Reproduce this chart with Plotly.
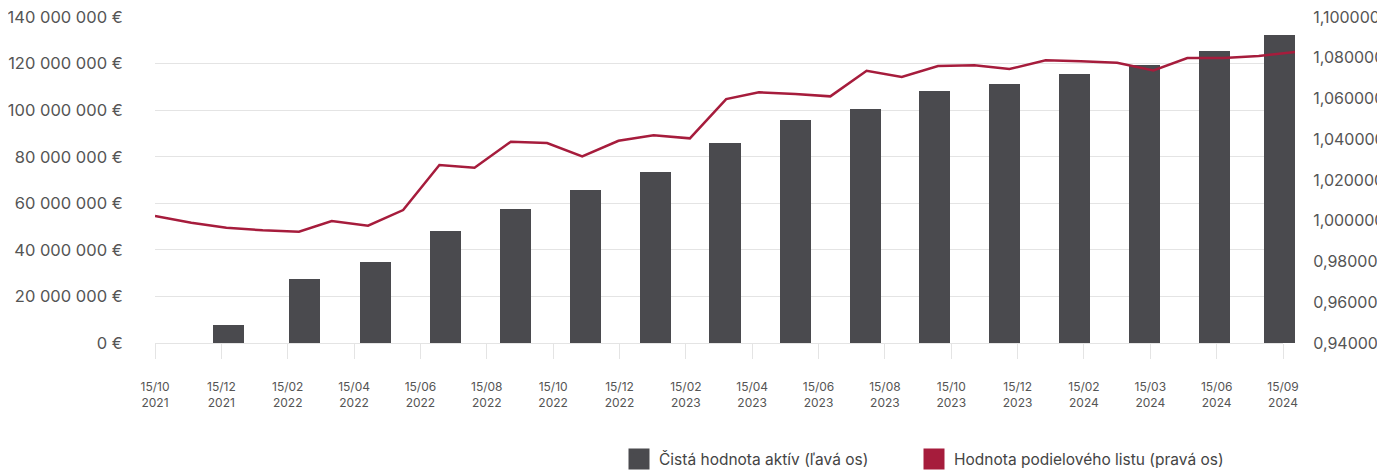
import plotly.graph_objects as go

# ---------------- data ----------------
tick_labels = [
    "15/10<br>2021", "15/12<br>2021", "15/02<br>2022", "15/04<br>2022",
    "15/06<br>2022", "15/08<br>2022", "15/10<br>2022", "15/12<br>2022",
    "15/02<br>2023", "15/04<br>2023", "15/06<br>2023", "15/08<br>2023",
    "15/10<br>2023", "15/12<br>2023", "15/02<br>2024", "15/03<br>2024",
    "15/06<br>2024", "15/09<br>2024",
]

line_dates = [
    "2021-10-15", "2021-11-15", "2021-12-15", "2022-01-15", "2022-02-15",
    "2022-03-15", "2022-04-15", "2022-05-15", "2022-06-15", "2022-07-15",
    "2022-08-15", "2022-09-15", "2022-10-15", "2022-11-15", "2022-12-15",
    "2023-01-15", "2023-02-15", "2023-03-15", "2023-04-15", "2023-05-15",
    "2023-06-15", "2023-07-15", "2023-08-15", "2023-09-15", "2023-10-15",
    "2023-11-15", "2023-12-15", "2024-01-15", "2024-02-15", "2024-03-15",
    "2024-04-15", "2024-05-15", "2024-06-15",
]
unit_values = [
    1.00233, 0.99904, 0.99659, 0.99531, 0.99463, 0.99988, 0.99757, 1.00528,
    1.02736, 1.02604, 1.03880, 1.03816, 1.03163, 1.03929, 1.04194, 1.04047,
    1.05975, 1.06304, 1.06221, 1.06108, 1.07364, 1.07055, 1.07595, 1.07630,
    1.07448, 1.07875, 1.07826, 1.07757, 1.07384, 1.07988, 1.07990, 1.08086,
    1.08282,
]

bar_dates = [
    "2021-12-17", "2022-02-20", "2022-04-21", "2022-06-20", "2022-08-19",
    "2022-10-18", "2022-12-17", "2023-02-14", "2023-04-15", "2023-06-14",
    "2023-08-12", "2023-10-11", "2023-12-10", "2024-02-07", "2024-04-07",
    "2024-06-02",
]
nav_values = [
    7.7e6, 27.5e6, 34.8e6, 48.1e6, 57.5e6, 65.7e6, 73.4e6, 85.9e6,
    95.7e6, 100.5e6, 108.2e6, 111.3e6, 115.6e6, 119.5e6, 125.4e6, 132.2e6,
]

left_ticks = [0, 20e6, 40e6, 60e6, 80e6, 100e6, 120e6, 140e6]
left_text = ["0 €", "20 000 000 €", "40 000 000 €", "60 000 000 €",
             "80 000 000 €", "100 000 000 €", "120 000 000 €", "140 000 000 €"]
right_ticks = [0.94, 0.96, 0.98, 1.00, 1.02, 1.04, 1.06, 1.08, 1.10]
right_text = ["0,940000", "0,960000", "0,980000", "1,000000", "1,020000",
              "1,040000", "1,060000", "1,080000", "1,100000"]

name_bar = "Čistá hodnota aktív (ľavá os)"
name_line = "Hodnota podielového listu (pravá os)"

BAR_COLOR = "#4a4a4e"
LINE_COLOR = "#a61c3c"
GRID = "#e4e4e4"
TXT = "#555555"
FONT = "Inter, Roboto, sans-serif"

# page has an 8px body margin: figure fills the rest of the window
OFF = 8
W, H = 1385 - OFF, 470 - OFF
xdom = [(155 - OFF) / W, (1283 - OFF) / W]
x2dom = [(155 - OFF) / W, (1295 - OFF) / W]
ydom = [(470 - 343) / H, (470 - 17) / H]

fig = go.Figure()

# frame subplot: category labels + left grid
fig.add_trace(go.Scatter(
    x=tick_labels, y=[None] * len(tick_labels), xaxis="x", yaxis="y",
    mode="lines", showlegend=False, hoverinfo="skip"))

# bars
fig.add_trace(go.Bar(
    x=bar_dates, y=nav_values, xaxis="x2", yaxis="y2",
    marker=dict(color=BAR_COLOR, line=dict(width=0)),
    width=26.5 * 86400000, name=name_bar, showlegend=False))

# line
fig.add_trace(go.Scatter(
    x=line_dates, y=unit_values, xaxis="x2", yaxis="y3",
    mode="lines", line=dict(color=LINE_COLOR, width=2.5),
    name=name_line, showlegend=False))

# legend entries (one legend box each)
for nm, col, lg in [(name_bar, BAR_COLOR, "legend"),
                    (name_line, LINE_COLOR, "legend2")]:
    fig.add_trace(go.Scatter(
        x=[None], y=[None], xaxis="x2", yaxis="y2", mode="markers",
        marker=dict(symbol="square", size=16, color=col,
                    line=dict(width=5, color=col)),
        name=nm, showlegend=True, hoverinfo="skip", legend=lg))

legend_common = dict(
    orientation="h", xanchor="left",
    y=(470 - 459.5) / H, yanchor="middle",
    font=dict(size=15.5, color="#444444", family=FONT),
    bgcolor="rgba(0,0,0,0)", itemclick=False, itemdoubleclick=False,
)

fig.update_layout(
    width=W, height=H,
    margin=dict(l=0, r=0, t=0, b=0, autoexpand=False),
    paper_bgcolor="white", plot_bgcolor="rgba(0,0,0,0)",
    font=dict(family=FONT, color=TXT, size=14),
    bargap=0,
    xaxis=dict(
        domain=xdom, anchor="y", type="category",
        categoryorder="array", categoryarray=tick_labels,
        range=[0, len(tick_labels) - 1],
        showgrid=False, zeroline=False,
        showline=True, linecolor=GRID, linewidth=1,
        ticks="outside", ticklen=15, tickcolor=GRID, tickwidth=1,
        tickfont=dict(size=12, color=TXT, family=FONT),
        ticklabelstandoff=18, automargin=False,
    ),
    yaxis=dict(
        domain=ydom, anchor="x", range=[0, 140.03e6],
        tickvals=left_ticks, ticktext=left_text,
        showgrid=True, gridcolor=GRID, gridwidth=1, zeroline=False,
        showline=False, ticks="outside", ticklen=28,
        tickcolor="rgba(0,0,0,0)", ticklabeloverflow="allow",
        tickfont=dict(size=16.5, color=TXT, family=FONT), automargin=False,
    ),
    xaxis2=dict(
        domain=x2dom, anchor="y2", type="date",
        range=["2021-10-15", "2024-06-15"], visible=False,
        showgrid=False, zeroline=False,
    ),
    yaxis2=dict(
        domain=ydom, anchor="x2", range=[0, 140.03e6], visible=False,
        showgrid=False, zeroline=False,
    ),
    yaxis3=dict(
        overlaying="y2", anchor="x2", side="right", range=[0.94, 1.10003],
        tickvals=right_ticks, ticktext=right_text,
        showgrid=False, zeroline=False, showline=False,
        ticks="outside", ticklen=14, tickcolor="rgba(0,0,0,0)",
        ticklabeloverflow="allow",
        tickfont=dict(size=16, color=TXT, family=FONT), automargin=False,
    ),
    legend=dict(x=(619 - OFF) / W, **legend_common),
    legend2=dict(x=(914 - OFF) / W, **legend_common),
    showlegend=True,
)

fig.write_html("out.html")
